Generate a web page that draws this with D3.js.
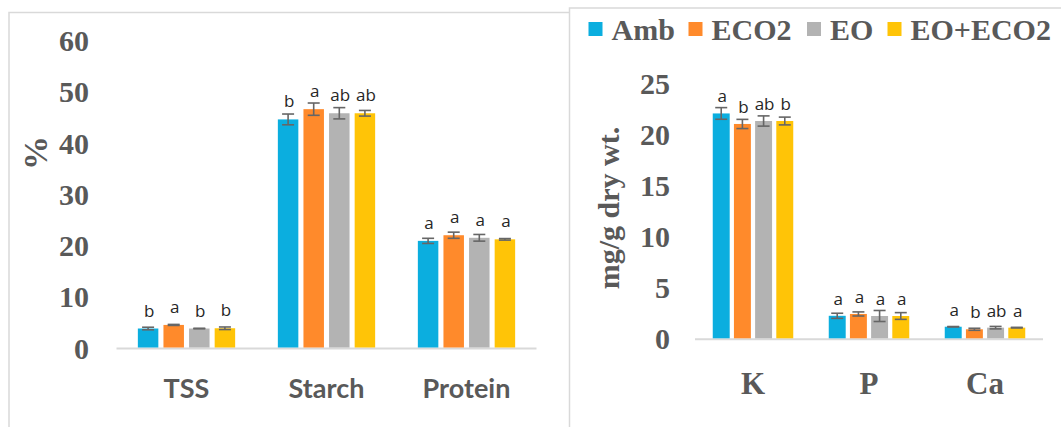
<!DOCTYPE html>
<html>
<head>
<meta charset="utf-8">
<script src="https://cdn.jsdelivr.net/npm/d3@7"></script>
<style>
html,body{margin:0;padding:0;background:#fff;}
svg{display:block;}
</style>
</head>
<body>
<svg id="chart" width="1061" height="427"></svg>
<script>
// ---- data ----
const series = ["Amb", "ECO2", "EO", "EO+ECO2"];
const seriesColors = ["#0BAEDF", "#FF8A2B", "#B3B3B3", "#FFC407"];

// Left panel: composition (%)
const compCategories = ["TSS", "Starch", "Protein"];
const compAmb      = [3.9, 44.7, 21.0];
const compEco2     = [4.6, 46.7, 22.1];
const compEo       = [3.9, 45.9, 21.6];
const compEoEco2   = [3.95, 45.9, 21.3];
const compAmbErr    = [0.25, 1.05, 0.5];
const compEco2Err   = [0.1, 1.2, 0.6];
const compEoErr     = [0.05, 1.1, 0.65];
const compEoEco2Err = [0.25, 0.55, 0.15];
const compAmbLet    = ["b", "b", "a"];
const compEco2Let   = ["a", "a", "a"];
const compEoLet     = ["b", "ab", "a"];
const compEoEco2Let = ["b", "ab", "a"];
const compTicks = [0, 10, 20, 30, 40, 50, 60];

// Right panel: minerals (mg/g dry wt.)
const minCategories = ["K", "P", "Ca"];
const minAmb      = [22.1, 2.3, 1.23];
const minEco2     = [21.07, 2.48, 0.98];
const minEo       = [21.36, 2.28, 1.14];
const minEoEco2   = [21.36, 2.28, 1.14];
const minAmbErr    = [0.57, 0.25, 0.02];
const minEco2Err   = [0.45, 0.2, 0.1];
const minEoErr     = [0.5, 0.54, 0.12];
const minEoEco2Err = [0.38, 0.33, 0.03];
const minAmbLet    = ["a", "a", "a"];
const minEco2Let   = ["b", "a", "b"];
const minEoLet     = ["ab", "a", "ab"];
const minEoEco2Let = ["b", "a", "a"];
const minTicks = [0, 5, 10, 15, 20, 25];

// ---- drawing ----
const svg = d3.select("#chart");
const GRAY = "#595959";
const BORDER = "#D9D9D9";

// panel borders
svg.append("path").attr("d", "M9,427 V12.5 H569").attr("fill", "none").attr("stroke", BORDER).attr("stroke-width", 1.5);
svg.append("path").attr("d", "M569.5,427 V8 H1061").attr("fill", "none").attr("stroke", BORDER).attr("stroke-width", 1.5);

function buildRows(cats, vals, errs, lets) {
  const rows = [];
  cats.forEach((c, i) => {
    series.forEach((s, j) => {
      rows.push({cat: c, ser: s, color: seriesColors[j], v: vals[j][i], e: errs[j][i], l: lets[j][i]});
    });
  });
  return rows;
}

function drawPanel(cfg) {
  const g = svg.append("g");
  const x = d3.scaleBand().domain(cfg.cats).range(cfg.xRange).padding(0);
  const xi = d3.scaleBand().domain(series).range([0, cfg.groupW]).paddingInner(0.2).paddingOuter(0);
  const y = d3.scaleLinear().domain(cfg.yDomain).range(cfg.yRange);
  const off = (x.bandwidth() - cfg.groupW) / 2;

  // y axis tick labels
  const ax = d3.axisLeft(y).tickValues(cfg.ticks).tickSize(0).tickPadding(0);
  const axg = g.append("g").attr("transform", `translate(${cfg.tickX},0)`).call(ax);
  axg.select(".domain").remove();
  axg.selectAll("text")
    .attr("font-family", "'Liberation Serif', 'Times New Roman', serif")
    .attr("font-weight", "bold").attr("font-size", 30).attr("fill", GRAY);

  // baseline
  g.append("line").attr("x1", cfg.xRange[0]).attr("x2", cfg.xRange[1])
    .attr("y1", y(0)).attr("y2", y(0)).attr("stroke", BORDER).attr("stroke-width", 2);

  const rows = buildRows(cfg.cats, cfg.vals, cfg.errs, cfg.lets);
  const bx = d => x(d.cat) + off + xi(d.ser);

  g.selectAll("rect.bar").data(rows).enter().append("rect")
    .attr("class", "bar")
    .attr("x", bx).attr("width", xi.bandwidth())
    .attr("y", d => y(d.v)).attr("height", d => y(0) - y(d.v) - 1)
    .attr("fill", d => d.color);

  // error bars
  const cap = 6;
  const eg = g.selectAll("g.err").data(rows).enter().append("g").attr("class", "err")
    .attr("stroke", "#666").attr("stroke-width", 1.6);
  eg.append("line").attr("x1", d => bx(d) + xi.bandwidth() / 2).attr("x2", d => bx(d) + xi.bandwidth() / 2)
    .attr("y1", d => y(d.v + d.e)).attr("y2", d => y(d.v - d.e));
  eg.append("line").attr("x1", d => bx(d) + xi.bandwidth() / 2 - cap).attr("x2", d => bx(d) + xi.bandwidth() / 2 + cap)
    .attr("y1", d => y(d.v + d.e)).attr("y2", d => y(d.v + d.e));
  eg.append("line").attr("x1", d => bx(d) + xi.bandwidth() / 2 - cap).attr("x2", d => bx(d) + xi.bandwidth() / 2 + cap)
    .attr("y1", d => y(d.v - d.e)).attr("y2", d => y(d.v - d.e));

  // significance letters
  g.selectAll("text.let").data(rows).enter().append("text")
    .attr("class", "let")
    .attr("x", d => bx(d) + xi.bandwidth() / 2 + 1)
    .attr("y", d => y(d.v) - cfg.letOff)
    .attr("text-anchor", "middle")
    .attr("font-family", "'Open Sans', 'Noto Sans', sans-serif")
    .attr("font-size", 17).attr("fill", "#262626")
    .text(d => d.l);

  // category labels
  g.selectAll("text.cat").data(cfg.cats).enter().append("text")
    .attr("class", "cat")
    .attr("x", d => x(d) + x.bandwidth() / 2)
    .attr("y", cfg.catY)
    .attr("text-anchor", "middle")
    .attr("font-family", cfg.catFont)
    .attr("font-weight", "bold").attr("font-size", cfg.catSize).attr("fill", GRAY)
    .text(d => d);

  // y title
  g.append("text")
    .attr("transform", `translate(${cfg.titleX},${cfg.titleY}) rotate(-90)`)
    .attr("text-anchor", "middle")
    .attr("font-family", "'Liberation Serif', 'Times New Roman', serif")
    .attr("font-weight", "bold").attr("font-size", cfg.titleSize).attr("fill", GRAY)
    .text(cfg.title);
}

drawPanel({
  cats: compCategories,
  vals: [compAmb, compEco2, compEo, compEoEco2],
  errs: [compAmbErr, compEco2Err, compEoErr, compEoEco2Err],
  lets: [compAmbLet, compEco2Let, compEoLet, compEoEco2Let],
  ticks: compTicks,
  xRange: [116.5, 536.5], groupW: 97.3,
  yDomain: [0, 60], yRange: [348.5, 41],
  tickX: 89, letOff: 12,
  catY: 398, catFont: "Lato, 'Open Sans', sans-serif", catSize: 27,
  titleX: 47, titleY: 153, title: "%", titleSize: 34
});

drawPanel({
  cats: minCategories,
  vals: [minAmb, minEco2, minEo, minEoEco2],
  errs: [minAmbErr, minEco2Err, minEoErr, minEoEco2Err],
  lets: [minAmbLet, minEco2Let, minEoLet, minEoEco2Let],
  ticks: minTicks,
  xRange: [695, 1043], groupW: 80.5,
  yDomain: [0, 25], yRange: [339.3, 83.8],
  tickX: 670, letOff: 11,
  catY: 394, catFont: "'Liberation Serif', 'Times New Roman', serif", catSize: 31,
  titleX: 619, titleY: 208, title: "mg/g dry wt.", titleSize: 30
});

// legend
const legendX = [588.5, 688.5, 807, 887.5];
const lg = svg.append("g").selectAll("g").data(series).enter().append("g")
  .attr("transform", (d, i) => `translate(${legendX[i]},0)`);
lg.append("rect").attr("x", 0).attr("y", 22).attr("width", 14).attr("height", 14)
  .attr("fill", (d, i) => seriesColors[i]);
lg.append("text").attr("x", 23).attr("y", 39.5)
  .attr("font-family", "'Liberation Serif', 'Times New Roman', serif")
  .attr("font-weight", "bold").attr("font-size", 30).attr("fill", GRAY)
  .text(d => d);
</script>
</body>
</html>
